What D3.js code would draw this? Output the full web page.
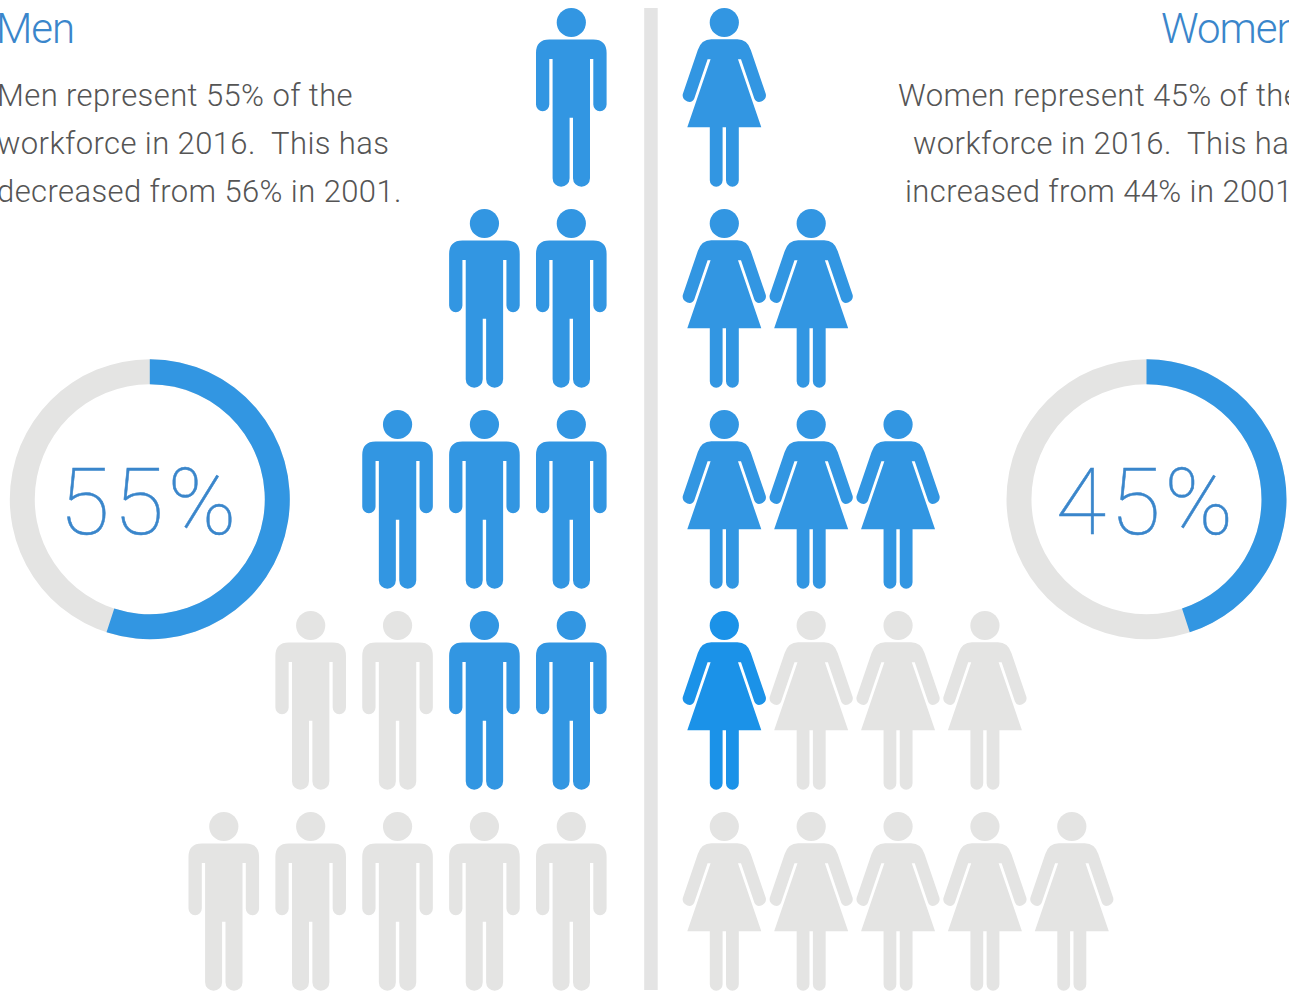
<!DOCTYPE html>
<html><head><meta charset="utf-8">
<script src="https://cdn.jsdelivr.net/npm/d3@7"></script>
<style>html,body{margin:0;padding:0;background:#fff;overflow:hidden}svg{display:block}</style>
</head><body>
<div id="c"></div>
<script>
// Data
const rowCounts = [1, 2, 3, 4, 5];
const menFilledByRow = [1, 2, 3, 2, 0];
const womenFilledByRow = [1, 2, 3, 1, 0];
const menShare = 55;
const womenShare = 45;
const menHeading = "Men";
const womenHeading = "Women";
const menLines = ["Men represent 55% of the", "workforce in 2016.  This has", "decreased from 56% in 2001."];
const womenLines = ["Women represent 45% of the", "workforce in 2016.  This has", "increased from 44% in 2001."];

const W = 1289, H = 992;
const BLUE = "#3296e2", BRIGHT = "#1b92e8", GREY = "#e4e4e3", TEXTBLUE = "#3a86cb", TEXTGREY = "#555";
const svg = d3.select("#c").append("svg").attr("width", W).attr("height", H);
svg.style("font-family", "'Roboto',sans-serif");

const rowY = d3.scaleLinear().domain([0, 4]).range([8, 812]);
const menX = d3.scaleLinear().domain([0, 4]).range([571.3, 223.8]);
const womenX = d3.scaleLinear().domain([0, 4]).range([724.3, 1071.8]);

const manPath = "M-22,31.5 H22 Q35.3,31.5 35.3,45 V96.5 A6.65,6.65 0 0 1 22,96.5 V51 H18.7 V170.2 A8.5,8.5 0 0 1 1.7,170.2 V109.7 H-1.7 V170.2 A8.5,8.5 0 0 1 -18.7,170.2 V51 H-22 V96.5 A6.65,6.65 0 0 1 -35.3,96.5 V45 Q-35.3,31.5 -22,31.5 Z";
const womanPath = "M-13,31.3 H13 Q23,31.3 26.5,42 L41.5,86 Q42.5,91 37,93.5 Q32,95 30,90.5 L16.7,51.3 H13.7 L37,119.3 H14.5 V172.3 A6.4,6.4 0 0 1 1.7,172.3 V119.3 H-1.7 V172.3 A6.4,6.4 0 0 1 -14.5,172.3 V119.3 H-37 L-13.7,51.3 H-16.7 L-30,90.5 Q-32,95 -37,93.5 Q-42.5,91 -41.5,86 L-26.5,42 Q-23,31.3 -13,31.3 Z";

function figures(filled, xScale, path, fillFor) {
  rowCounts.forEach((n, r) => {
    d3.range(n).forEach(c => {
      const g = svg.append("g").attr("transform", `translate(${xScale(c)},${rowY(r)})`)
        .attr("fill", c < filled[r] ? fillFor(r) : GREY);
      g.append("circle").attr("cx", 0).attr("cy", 14.5).attr("r", 14.6);
      g.append("path").attr("d", path);
    });
  });
}
figures(menFilledByRow, menX, manPath, () => BLUE);
figures(womenFilledByRow, womenX, womanPath, r => r === 3 ? BRIGHT : BLUE);

svg.append("rect").attr("x", 644.2).attr("y", 8).attr("width", 13.5).attr("height", 982).attr("fill", "#e4e4e4");

const arc = d3.arc().innerRadius(115).outerRadius(140);
function donut(cx, cy, share) {
  const g = svg.append("g").attr("transform", `translate(${cx},${cy})`);
  const ang = d3.scaleLinear().domain([0, 100]).range([0, 2 * Math.PI]);
  g.append("path").attr("d", arc({startAngle: 0, endAngle: 2 * Math.PI})).attr("fill", GREY);
  g.append("path").attr("d", arc({startAngle: 0, endAngle: ang(share)})).attr("fill", BLUE);
  g.append("text").attr("text-anchor", "middle").attr("y", 34.5).attr("font-size", 92)
    .attr("letter-spacing", 4).attr("stroke", TEXTBLUE).attr("stroke-width", 0.5)
    .attr("font-weight", 100).attr("fill", TEXTBLUE).text(share + "%");
}
donut(149.8, 499.2, menShare);
donut(1146.5, 499.2, womenShare);

function heading(x, t) {
  svg.append("text").attr("x", x).attr("y", 43).attr("font-size", 42).attr("font-weight", 300)
    .attr("letter-spacing", -1).attr("fill", TEXTBLUE).text(t);
}
heading(-4, menHeading);
heading(1161, womenHeading);

const lineY = [106, 154, 202];
const menLineX = [-3, -3, -3];
const womenLineX = [898, 913, 905];
function para(lines, xs) {
  lines.forEach((t, i) => svg.append("text").attr("x", xs[i]).attr("y", lineY[i])
    .style("white-space", "pre").attr("letter-spacing", 0.4)
    .attr("font-size", 31).attr("font-weight", 300).attr("fill", TEXTGREY).text(t));
}
para(menLines, menLineX);
para(womenLines, womenLineX);
</script>
</body></html>
